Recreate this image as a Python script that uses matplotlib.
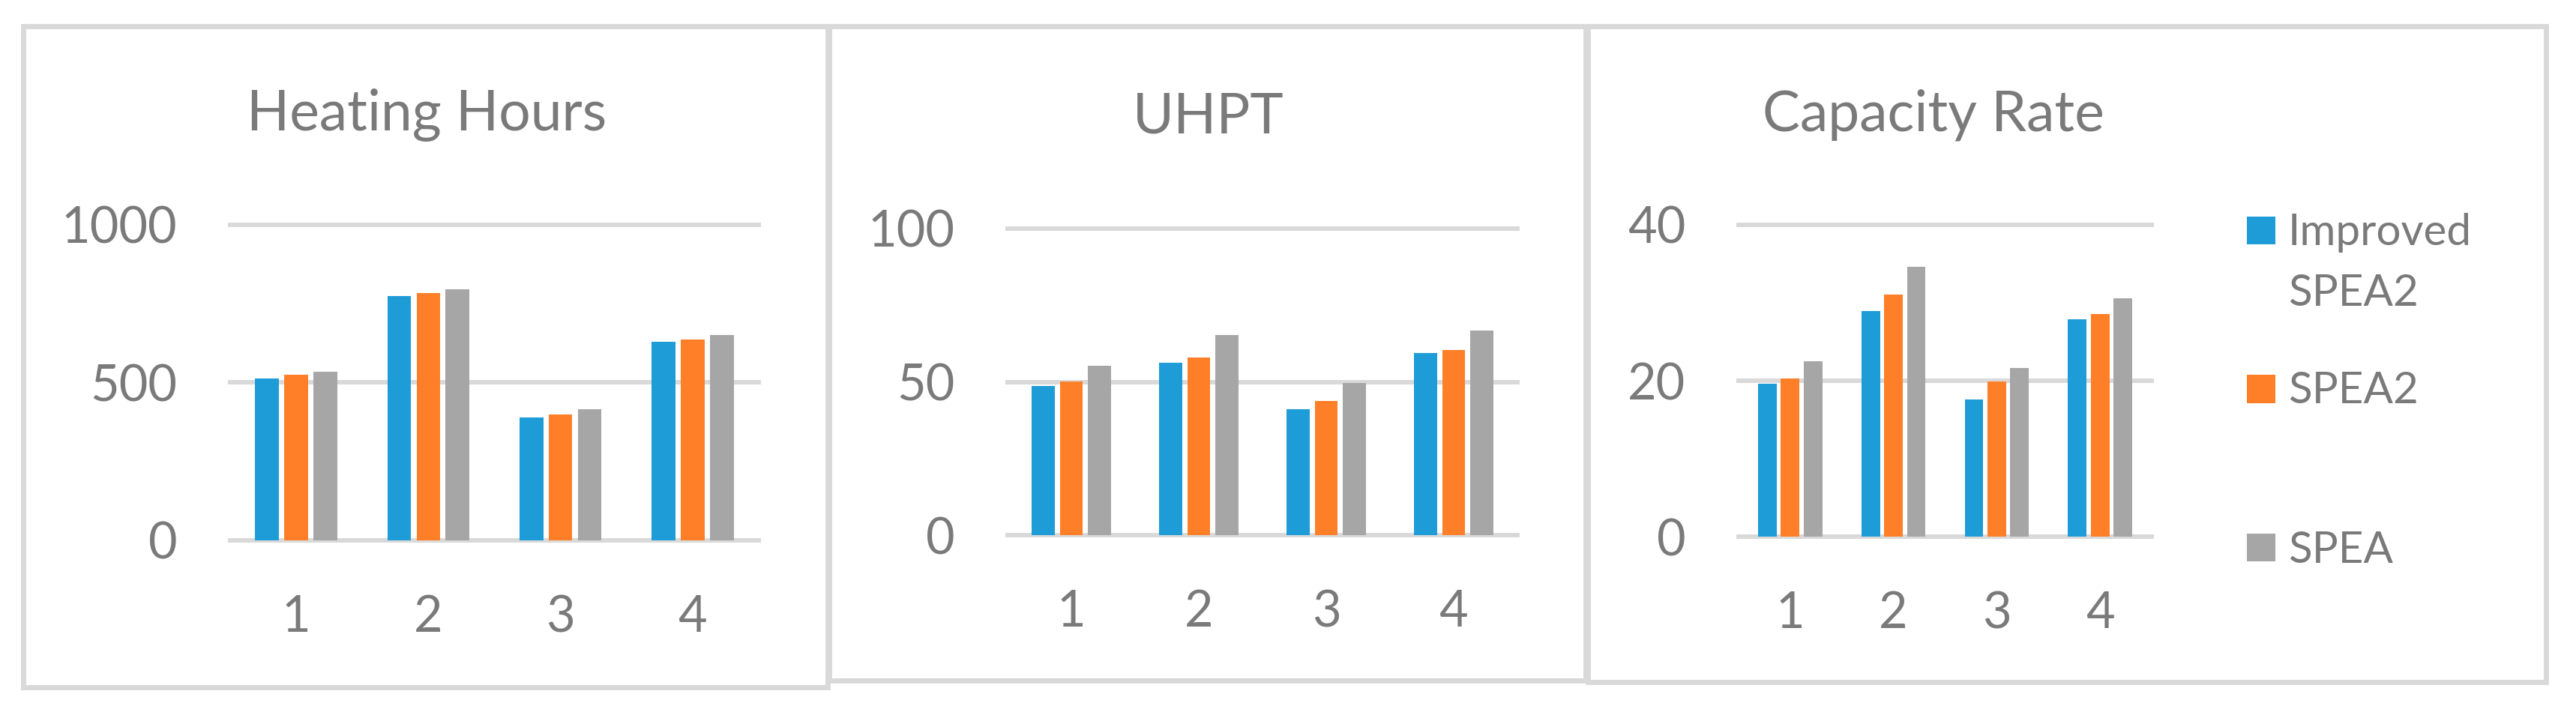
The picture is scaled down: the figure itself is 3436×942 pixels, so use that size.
import matplotlib
matplotlib.use("Agg")
import matplotlib.pyplot as plt
from matplotlib.patches import Rectangle
import numpy as np

plt.rcParams['font.family'] = ['Lato', 'DejaVu Sans']

categories = ['1', '2', '3', '4']
series_names = ['Improved\nSPEA2', 'SPEA2', 'SPEA']
colors = ['#1E9CD7', '#FE7F27', '#A6A6A6']

heating_improved = [512, 775, 389, 629]
heating_spea2 = [525, 783, 399, 636]
heating_spea = [534, 795, 415, 650]

uhpt_improved = [48.7, 56.2, 41.0, 59.4]
uhpt_spea2 = [50.1, 57.9, 43.7, 60.4]
uhpt_spea = [55.3, 65.3, 49.6, 66.8]

cap_improved = [19.6, 28.9, 17.6, 27.9]
cap_spea2 = [20.3, 31.1, 19.9, 28.6]
cap_spea = [22.5, 34.6, 21.6, 30.6]

titles = ['Heating Hours', 'UHPT', 'Capacity Rate']
yticks_list = [[0, 500, 1000], [0, 50, 100], [0, 20, 40]]

W, H = 3436, 942
DPI = 100
fig = plt.figure(figsize=(W / DPI, H / DPI), dpi=DPI)

TXT = '#7A7A7A'
GRID = '#D9D9D9'

def fx(px):
    return px / W

def fy(py):
    return 1 - py / H

# panel frames (pixel coords, line centers)
frames = [(31.5, 34.5, 1103.5, 916.5), (1105.5, 34.5, 2115, 908), (2117.5, 34.5, 3396, 910)]
for (x0, y0, x1, y1) in frames:
    fig.add_artist(Rectangle((fx(x0), fy(y1)), fx(x1) - fx(x0), fy(y0) - fy(y1),
                             transform=fig.transFigure, fill=False,
                             edgecolor=GRID, linewidth=5.0, zorder=0))

# axes rectangles in px: left, right, top(max gridline), bottom(zero gridline)
axes_px = [(307, 1012, 300, 721), (1344, 2024, 305, 714), (2319, 2870, 300, 716)]
data = [
    (heating_improved, heating_spea2, heating_spea),
    (uhpt_improved, uhpt_spea2, uhpt_spea),
    (cap_improved, cap_spea2, cap_spea),
]
title_pos = [(569, 174), (1612, 177), (2579, 174)]

x = np.arange(len(categories))
offsets = [-0.22, 0.0, 0.22]
bw = 0.18

for i, (l, r, t, b) in enumerate(axes_px):
    ax = fig.add_axes([fx(l), fy(b), fx(r) - fx(l), fy(t) - fy(b)])
    for k, vals in enumerate(data[i]):
        ax.bar(x + offsets[k], vals, width=bw, color=colors[k], zorder=3)
    yt = yticks_list[i]
    ax.set_ylim(yt[0], yt[-1])
    ax.set_xlim(-0.5, len(categories) - 0.5)
    ax.set_yticks(yt)
    ax.set_yticklabels([str(v) for v in yt])
    ax.set_xticks(x)
    ax.set_xticklabels(categories)
    ax.yaxis.grid(True, color=GRID, linewidth=4.3, zorder=1)
    for gl in ax.get_ygridlines():
        gl.set_clip_on(False)
    ax.set_axisbelow(True)
    for s in ax.spines.values():
        s.set_visible(False)
    ax.tick_params(axis='both', length=0, labelsize=48, labelcolor=TXT)
    ax.tick_params(axis='y', pad=51)
    ax.tick_params(axis='x', pad=52)
    ax.patch.set_visible(False)
    tx, ty = title_pos[i]
    fig.text(fx(tx), fy(ty), titles[i], ha='center', va='baseline',
             fontsize=54, color=TXT)

# legend
sq = [(2997, 289, 3035, 326), (2997, 500, 3035, 538), (2997, 712, 3035, 749)]
for k, (x0, y0, x1, y1) in enumerate(sq):
    fig.add_artist(Rectangle((fx(x0), fy(y1)), fx(x1) - fx(x0), fy(y0) - fy(y1),
                             transform=fig.transFigure, facecolor=colors[k],
                             edgecolor='none'))
# baselines of each legend text line (px from top)
legend_baselines = [[327, 408], [538], [751]]
for k, name in enumerate(series_names):
    for line, yb in zip(name.split('\n'), legend_baselines[k]):
        fig.text(fx(3052), fy(yb), line, ha='left', va='baseline', fontsize=42, color=TXT)

fig.savefig('out.png', dpi=DPI, facecolor='white')
